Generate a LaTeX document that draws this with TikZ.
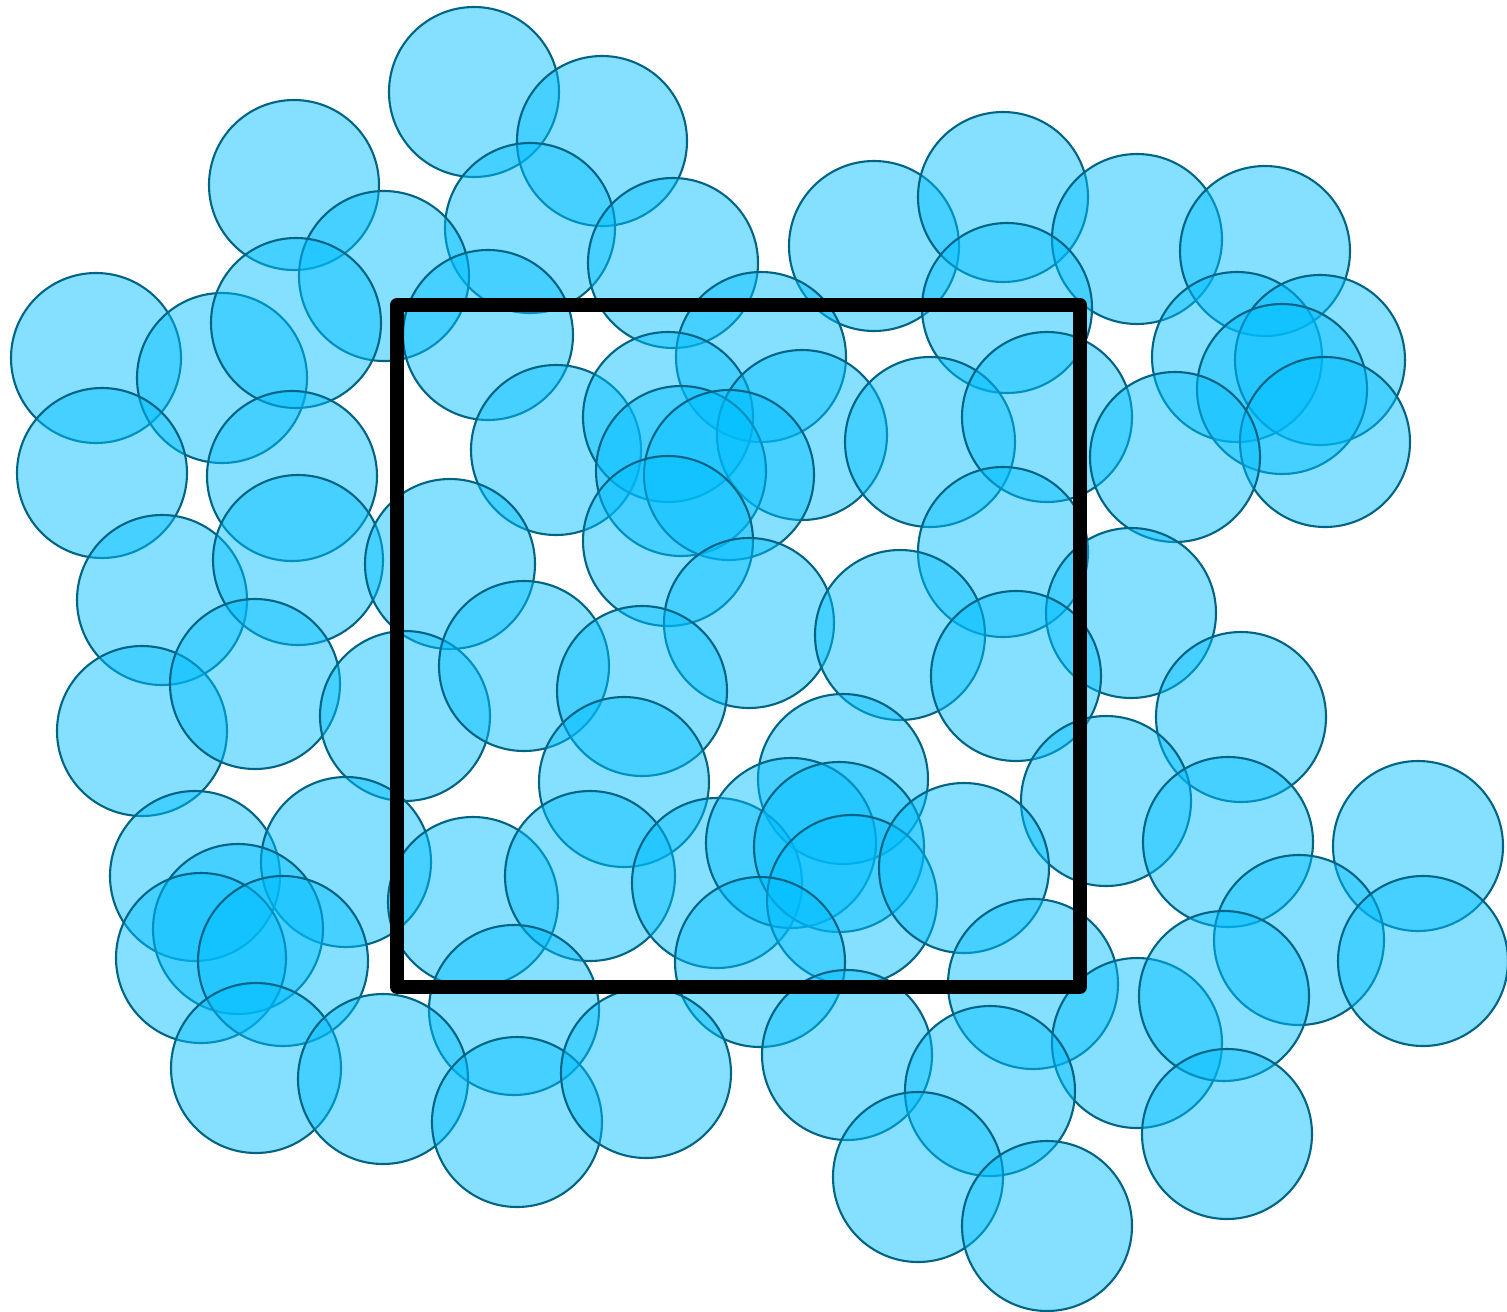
\documentclass[tikz,border=0pt]{standalone}
\usepackage{tikz}
\usepackage{xcolor}
\definecolor{discfill}{RGB}{0,190,255}
\definecolor{discedge}{HTML}{006485}

\tikzset{
  disc/.style={fill=discfill, fill opacity=0.48, draw=discedge, draw opacity=1, line width=0.42mm},
  window/.style={draw=black, line width=2.8mm, line join=round, line cap=round}
}

\begin{document}
\begin{tikzpicture}[x=0.2mm, y=-0.2mm]

%% ------------------------------------------------------------------
%% canvas in pixel units of the reference (1507 x 1312), y downwards
%% ------------------------------------------------------------------
\useasboundingbox (0,0) rectangle (1507,1312);

% the discs, all of radius 85, drawn in order so later rims sit on top
\foreach \cx/\cy in {
  474/92, 602/141, 294/185, 530/228, 384/276, 673/263, 874/246,
  1003/197, 1137/239, 1265/251, 96/358, 222/378, 296/323, 488/335,
  761/357, 1007/308, 1237/357, 1320/360, 1282/389, 1325/442,
  102/473, 292/476, 556/450, 668/417, 802/435, 930/442, 1047/417,
  1175/457, 681/471, 729/475, 668/541, 162/600, 298/560, 450/564,
  1003/552, 1131/613, 749/623, 900/635, 1016/676, 142/731, 255/684,
  405/716, 524/666, 642/691, 624/782, 843/779, 1241/717, 1106/801,
  1228/842, 1418/846, 1299/940, 1423/961, 195/876, 346/862, 238/929,
  201/958, 283/961, 473/902, 590/876, 717/883, 791/843, 839/847,
  852/900, 964/868, 760/962, 514/1010, 1033/984, 1137/1043, 1224/996,
  256/1068, 383/1079, 517/1122, 646/1073, 847/1055, 990/1091,
  918/1177, 1047/1226, 1227/1134}{
  \path[disc] (\cx,\cy) circle[radius=85];
}

% the square window on top
\draw[window] (397,305) rectangle (1080,987);

\end{tikzpicture}
\end{document}
